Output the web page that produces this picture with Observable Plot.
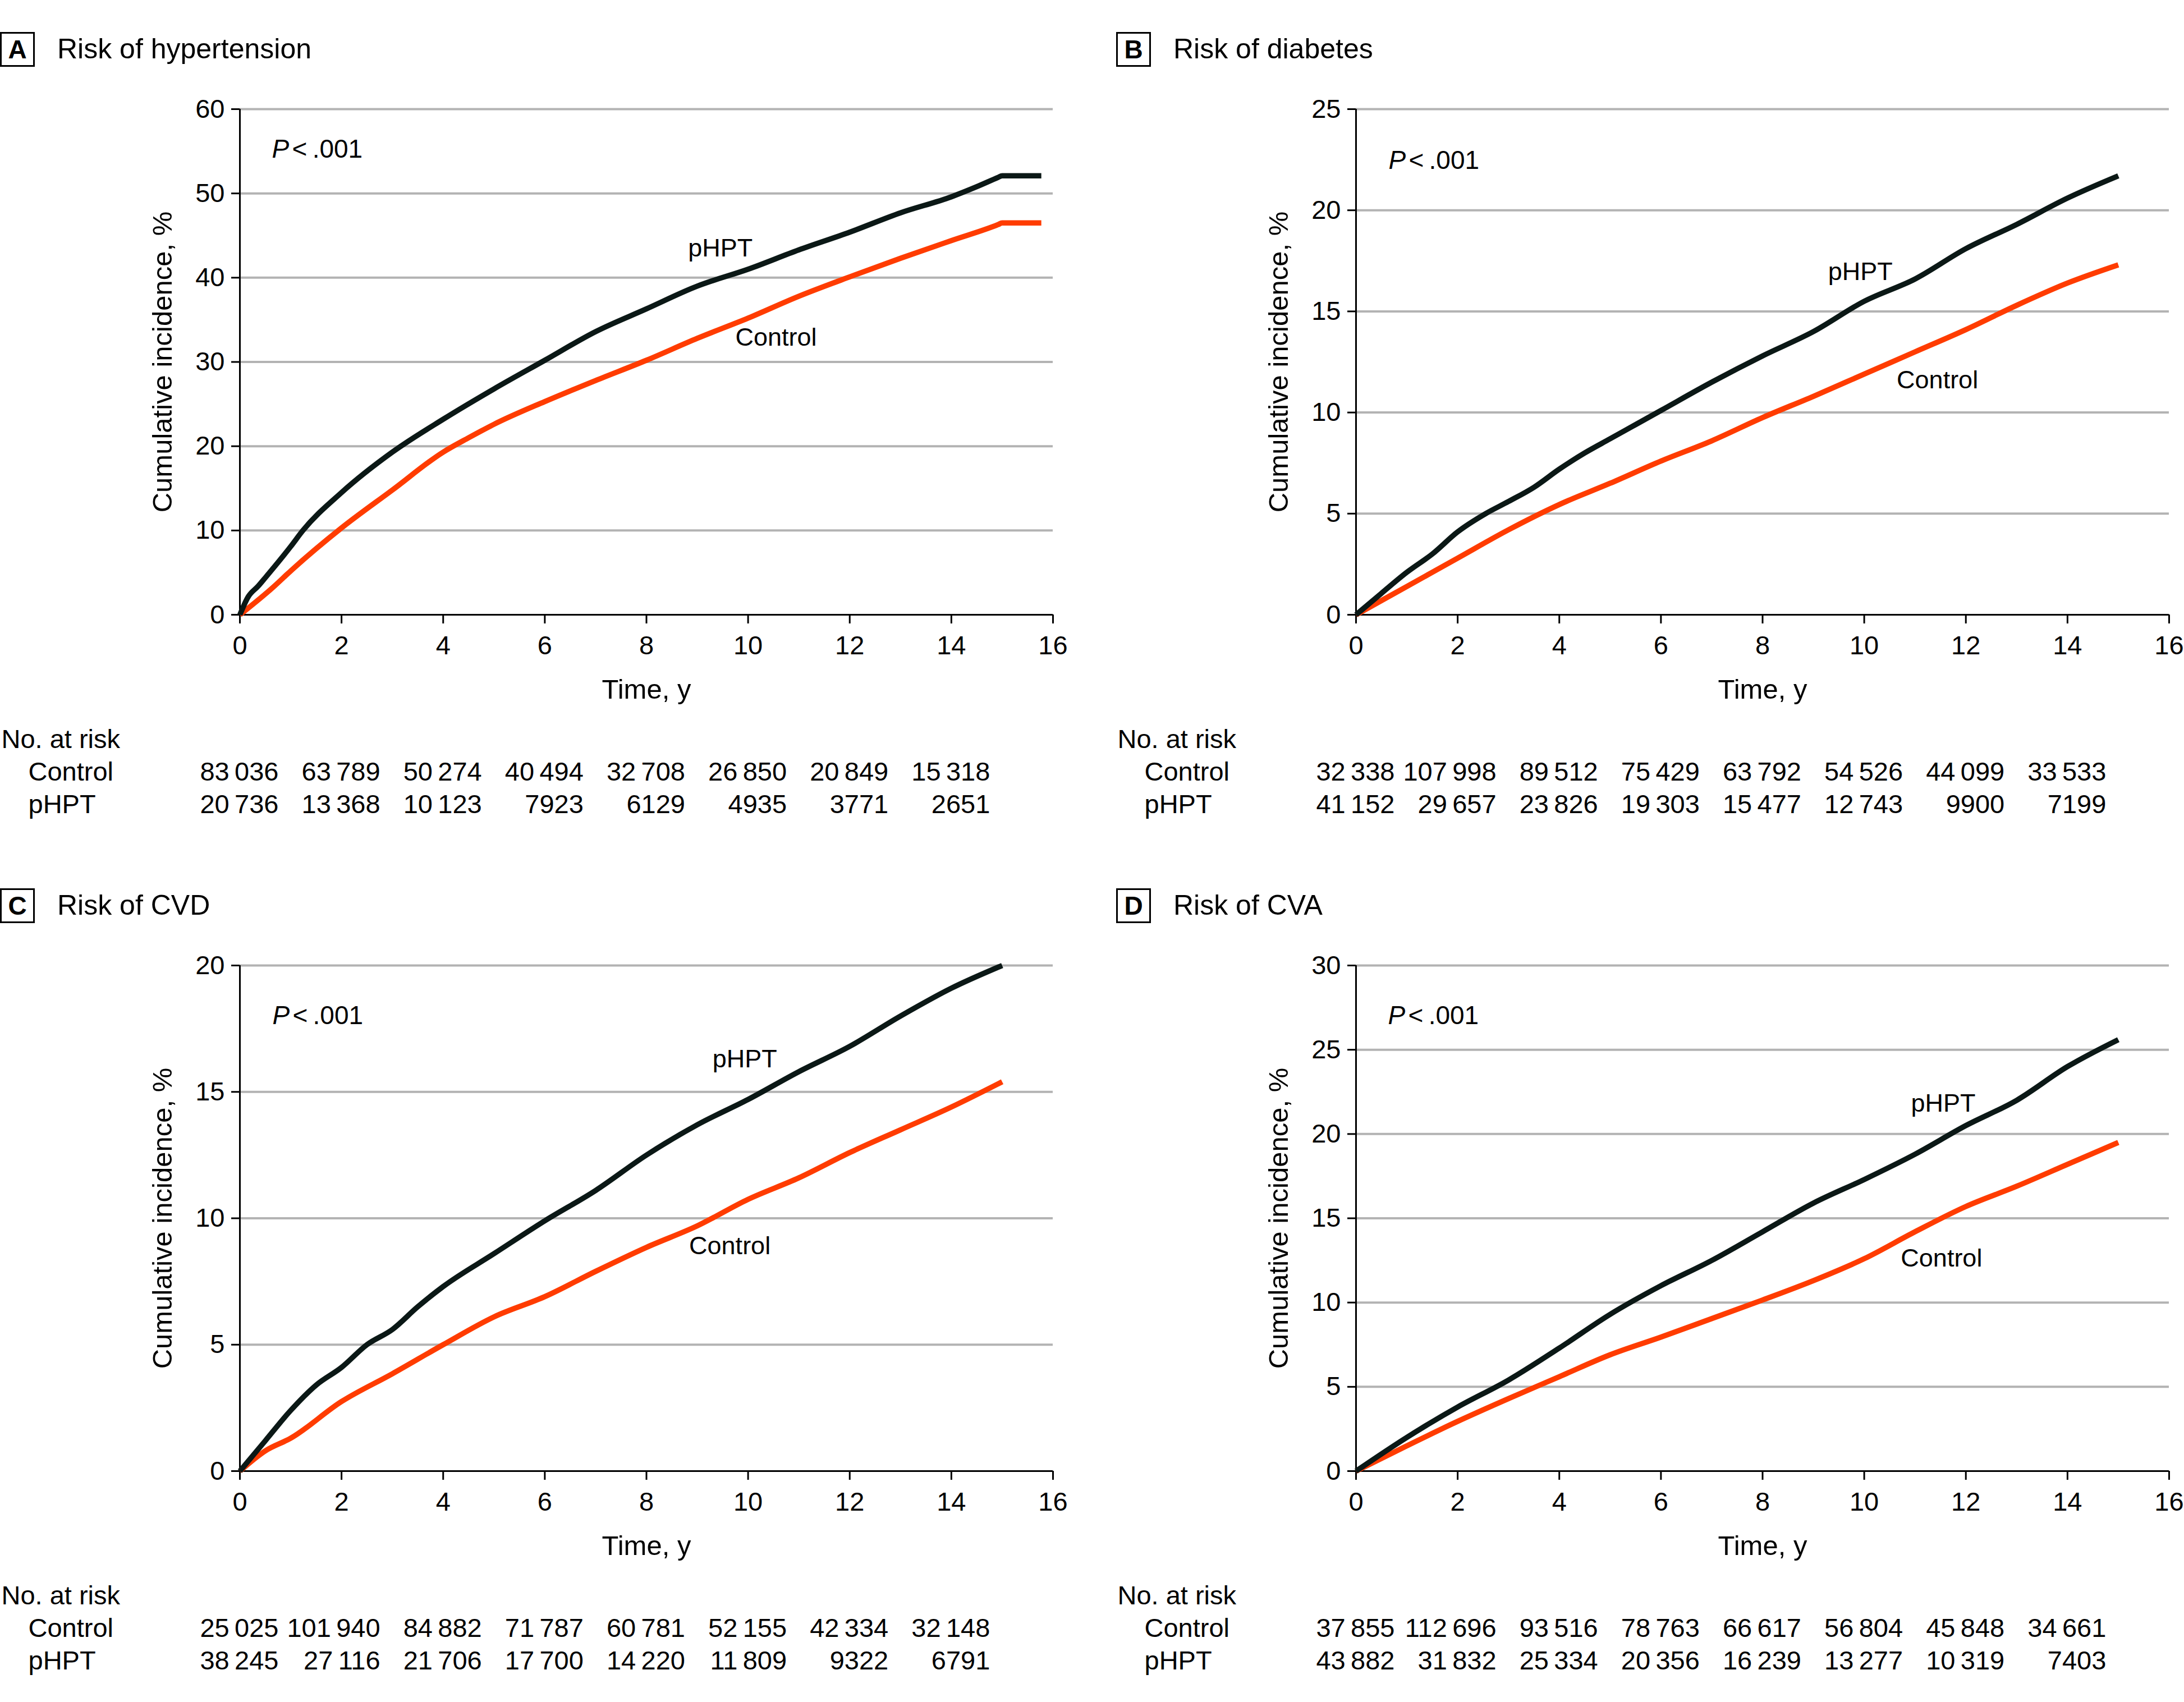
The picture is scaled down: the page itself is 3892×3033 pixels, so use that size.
<!DOCTYPE html>
<html>
<head>
<meta charset="utf-8">
<script src="https://cdn.jsdelivr.net/npm/d3@7"></script>
<script src="https://cdn.jsdelivr.net/npm/@observablehq/plot@0.6"></script>
<style>
  html, body { margin: 0; padding: 0; background: #fff; }
  body { position: relative; width: 3892px; height: 3033px; overflow: hidden;
         font-family: "Liberation Sans", Arial, sans-serif; color: #000; }
  .panel { position: absolute; width: 1903px; height: 1526px; }
  .badge { position: absolute; left: 0; top: 57px; width: 56px; height: 56px;
           border: 3px solid #000; font-weight: bold; font-size: 46px;
           display: flex; align-items: center; justify-content: center; line-height: 1; }
  .title { position: absolute; left: 102px; top: 87px; transform: translateY(-50%);
           font-size: 50px; line-height: 1; white-space: nowrap; }
  .main { position: absolute; left: 0; top: 150px; }
  .risk { position: absolute; left: 0; top: 1280px; }
</style>
</head>
<body>
<script>
// ---------- data ----------
const xTicks = [0, 2, 4, 6, 8, 10, 12, 14, 16];
const riskYears = [0, 2, 4, 6, 8, 10, 12, 14];

// A: hypertension  ([years, cumulative incidence %])
const hypertensionPHPT = [[0,0],[0.16,2.1],[0.36,3.4],[0.5,4.4],[1,8.1],[1.24,10],[2,14.5],[3,19.3],[4,23.2],[5,26.8],[6,30.2],[7,33.6],[8,36.3],[9,39.0],[10,41.0],[11,43.3],[12,45.4],[13,47.7],[14,49.6],[14.5,50.8],[14.92,51.9],[15,52.1],[15.77,52.1]];
const hypertensionControl = [[0,0],[0.66,3.3],[1,5.2],[2,10.3],[3,14.8],[4,19.3],[4.5,21.0],[5,22.6],[6,25.3],[7,27.8],[8,30.2],[9,32.8],[10,35.2],[11,37.8],[12,40.1],[13,42.3],[14,44.4],[14.92,46.3],[15,46.5],[15.77,46.5]];
const hypertensionTicks = [0, 10, 20, 30, 40, 50, 60];
const hypertensionRiskControl = [83036, 63789, 50274, 40494, 32708, 26850, 20849, 15318];
const hypertensionRiskPHPT = [20736, 13368, 10123, 7923, 6129, 4935, 3771, 2651];

// B: diabetes
const diabetesPHPT = [[0,0],[0.5,1.06],[1,2.1],[1.5,3.0],[2,4.1],[2.55,5],[3,5.6],[3.5,6.3],[4,7.2],[4.5,8.0],[5,8.7],[6,10.1],[7,11.5],[8,12.8],[9,14.0],[10,15.5],[11,16.6],[12,18.1],[13,19.3],[14,20.6],[15,21.7]];
const diabetesControl = [[0,0],[1,1.4],[2,2.8],[3,4.2],[4,5.45],[5,6.5],[6,7.6],[7,8.6],[8,9.75],[9,10.8],[10,11.9],[11,13.0],[12,14.1],[13,15.3],[14,16.4],[15,17.3]];
const diabetesTicks = [0, 5, 10, 15, 20, 25];
const diabetesRiskControl = [32338, 107998, 89512, 75429, 63792, 54526, 44099, 33533];
const diabetesRiskPHPT = [41152, 29657, 23826, 19303, 15477, 12743, 9900, 7199];

// C: CVD
const cvdPHPT = [[0,0],[0.5,1.2],[1,2.4],[1.5,3.4],[2,4.1],[2.5,5.0],[3,5.6],[3.5,6.5],[4,7.3],[5,8.6],[6,9.9],[7,11.1],[8,12.5],[9,13.7],[10,14.7],[11,15.8],[12,16.8],[13,18.0],[14,19.1],[15,20.0]];
const cvdControl = [[0,0],[0.5,0.8],[1,1.3],[2,2.75],[3,3.85],[4,5.0],[5,6.1],[6,6.9],[7,7.9],[8,8.85],[9,9.7],[10,10.75],[11,11.6],[12,12.6],[13,13.5],[14,14.4],[15,15.4]];
const cvdTicks = [0, 5, 10, 15, 20];
const cvdRiskControl = [25025, 101940, 84882, 71787, 60781, 52155, 42334, 32148];
const cvdRiskPHPT = [38245, 27116, 21706, 17700, 14220, 11809, 9322, 6791];

// D: CVA
const cvaPHPT = [[0,0],[1,2.0],[2,3.8],[3,5.4],[4,7.3],[5,9.3],[6,11.0],[7,12.5],[8,14.2],[9,15.9],[10,17.3],[11,18.8],[12,20.5],[13,22.0],[14,24.0],[15,25.6]];
const cvaControl = [[0,0],[1,1.5],[2,2.95],[3,4.3],[4,5.6],[5,6.9],[6,7.95],[7,9.05],[8,10.15],[9,11.3],[10,12.6],[11,14.2],[12,15.7],[13,16.9],[14,18.2],[15,19.5]];
const cvaTicks = [0, 5, 10, 15, 20, 25, 30];
const cvaRiskControl = [37855, 112696, 93516, 78763, 66617, 56804, 45848, 34661];
const cvaRiskPHPT = [43882, 31832, 25334, 20356, 16239, 13277, 10319, 7403];

// curve annotations: [x (years), y (%)]
const hypertensionLabels = {p: [0.63, 55.2], phpt: [8.82, 43.5], control: [9.75, 32.9]};
const diabetesLabels = {p: [0.64, 22.45], phpt: [9.29, 16.96], control: [10.64, 11.59]};
const cvdLabels = {p: [0.64, 18.0], phpt: [9.30, 16.3], control: [8.84, 8.9]};
const cvaLabels = {p: [0.63, 27.0], phpt: [10.92, 21.8], control: [10.72, 12.6]};

// ---------- styling ----------
const FONT = '"Liberation Sans", Arial, sans-serif';
const BLACK = "#0b1816";
const ORANGE = "#ff3c00";
const GRID = "#b3b3b3";

const panels = [
  {letter: "A", title: "Risk of hypertension", left: 0, top: 0, phpt: hypertensionPHPT, control: hypertensionControl, ticks: hypertensionTicks, riskC: hypertensionRiskControl, riskP: hypertensionRiskPHPT, labels: hypertensionLabels},
  {letter: "B", title: "Risk of diabetes", left: 1989, top: 0, phpt: diabetesPHPT, control: diabetesControl, ticks: diabetesTicks, riskC: diabetesRiskControl, riskP: diabetesRiskPHPT, labels: diabetesLabels},
  {letter: "C", title: "Risk of CVD", left: 0, top: 1526, phpt: cvdPHPT, control: cvdControl, ticks: cvdTicks, riskC: cvdRiskControl, riskP: cvdRiskPHPT, labels: cvdLabels},
  {letter: "D", title: "Risk of CVA", left: 1989, top: 1526, phpt: cvaPHPT, control: cvaControl, ticks: cvaTicks, riskC: cvaRiskControl, riskP: cvaRiskPHPT, labels: cvaLabels}
];

const fmtN = n => n >= 10000 ? d3.format(",")(n).replace(/,/g, "\u2009") : String(n);

function mainPlot(p) {
  const yMax = p.ticks[p.ticks.length - 1];
  const series = [
    ...p.control.map(([t, v]) => ({t, v, g: "Control"})),
    ...p.phpt.map(([t, v]) => ({t, v, g: "pHPT"}))
  ];
  const L = p.labels;
  return Plot.plot({
    width: 1903, height: 1115,
    marginLeft: 427, marginRight: 27, marginTop: 44, marginBottom: 170,
    style: {fontFamily: FONT, background: "transparent", color: "#000", overflow: "visible"},
    x: {domain: [0, 16]},
    y: {domain: [0, yMax]},
    color: {domain: ["Control", "pHPT"], range: [ORANGE, BLACK]},
    marks: [
      Plot.ruleY(p.ticks.filter(d => d > 0), {stroke: GRID, strokeWidth: 4}),
      Plot.axisX({ticks: xTicks, tickSize: 16, tickPadding: 21, fontSize: 47, strokeWidth: 3, label: null, tickFormat: d => String(d)}),
      Plot.axisY({ticks: p.ticks, tickSize: 15, tickPadding: 12, fontSize: 47, strokeWidth: 3, label: null, tickFormat: d => String(d)}),
      Plot.ruleY([0], {strokeWidth: 3, stroke: "#000"}),
      Plot.ruleX([0], {y1: 0, y2: yMax, strokeWidth: 3, stroke: "#000"}),
      Plot.line(series, {x: "t", y: "v", z: "g", stroke: "g", strokeWidth: 9.5, curve: "monotone-x", strokeLinejoin: "round", strokeLinecap: "butt"}),
      Plot.text([L.p], {x: d => d[0], y: d => d[1], text: () => "P", fontStyle: "italic", textAnchor: "start", lineAnchor: "middle", fontSize: 46}),
      Plot.text([L.p], {x: d => d[0], y: d => d[1], text: () => "<\u2009.001", textAnchor: "start", lineAnchor: "middle", fontSize: 46, dx: 36}),
      Plot.text([L.phpt], {x: d => d[0], y: d => d[1], text: () => "pHPT", textAnchor: "start", lineAnchor: "middle", fontSize: 45}),
      Plot.text([L.control], {x: d => d[0], y: d => d[1], text: () => "Control", textAnchor: "start", lineAnchor: "middle", fontSize: 45}),
      Plot.text(["Time, y"], {frameAnchor: "bottom", dy: 134, fontSize: 49, textAnchor: "middle", lineAnchor: "middle"}),
      Plot.text(["Cumulative incidence, %"], {frameAnchor: "left", dx: -137, rotate: -90, fontSize: 49, textAnchor: "middle", lineAnchor: "middle"})
    ]
  });
}

function riskPlot(p) {
  const rows = riskYears.flatMap((t, i) => [
    {t, g: "Control", n: p.riskC[i]},
    {t, g: "pHPT", n: p.riskP[i]}
  ]);
  return Plot.plot({
    width: 1903, height: 180,
    marginLeft: 427, marginRight: 27, marginTop: 37, marginBottom: 27,
    style: {fontFamily: FONT, background: "transparent", color: "#000", overflow: "visible"},
    x: {domain: [0, 16], axis: null},
    y: {type: "point", domain: ["No. at risk", "Control", "pHPT"], padding: 0, axis: null},
    marks: [
      Plot.text(rows, {x: "t", y: "g", text: d => fmtN(d.n), textAnchor: "end", lineAnchor: "middle", dx: 69, fontSize: 47}),
      Plot.text(["No. at risk"], {y: d => d, frameAnchor: "left", textAnchor: "start", lineAnchor: "middle", dx: -425, fontSize: 47}),
      Plot.text(["Control", "pHPT"], {y: d => d, frameAnchor: "left", textAnchor: "start", lineAnchor: "middle", dx: -377, fontSize: 47})
    ]
  });
}

for (const p of panels) {
  const div = document.createElement("div");
  div.className = "panel";
  div.style.left = p.left + "px";
  div.style.top = p.top + "px";
  const badge = document.createElement("div");
  badge.className = "badge";
  badge.textContent = p.letter;
  const title = document.createElement("div");
  title.className = "title";
  title.textContent = p.title;
  const m = mainPlot(p); m.classList.add("main");
  const r = riskPlot(p); r.classList.add("risk");
  div.append(badge, title, m, r);
  document.body.appendChild(div);
}
</script>
</body>
</html>
